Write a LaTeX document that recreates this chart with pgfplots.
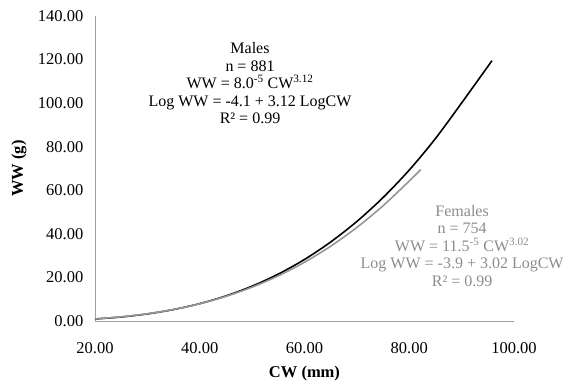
\documentclass[border=0pt]{standalone}
\usepackage{pgfplots}
\pgfplotsset{compat=1.18}
\usepackage{fontspec}
\setmainfont{Liberation Serif}
\definecolor{axisgray}{RGB}{160,160,160}
\definecolor{femgray}{RGB}{150,150,150}
\definecolor{femtext}{RGB}{140,140,140}
\begin{document}
\fontsize{16.5}{17.5}\selectfont
\begin{tikzpicture}
\path[use as bounding box] (-95pt,-62pt) rectangle (471pt,321pt);
\begin{axis}[
  at={(0pt,0pt)}, anchor=origin,
  scale only axis, width=419pt, height=305pt,
  xmin=20, xmax=100, ymin=0, ymax=140,
  axis x line*=bottom, axis y line*=left,
  axis line style={axisgray, line width=0.8pt},
  every outer x axis line/.append style={-},
  every outer y axis line/.append style={-},
  xtick={20,40,60,80,100}, ytick={0,20,40,60,80,100,120,140},
  major tick length=0pt,
  tick label style={font=\fontsize{16.5}{18}\selectfont},
  /pgf/number format/assume math mode=true,
  /pgf/number format/.cd, fixed, fixed zerofill, precision=2, /pgfplots/.cd,
  xticklabel style={yshift=-16pt},
  yticklabel style={xshift=-6pt},
  clip=false,
]
\addplot[black, line width=1.6pt, smooth] coordinates {
(20,0.92) (25,1.84) (30,3.25) (35,5.26) (40,7.97) (45,11.51) (50,15.99)
(55,21.53) (60,28.24) (65,36.26) (70,45.69) (75,56.66) (80,69.29)
(85,83.74) (90,100.08) (95.8,119.5)};
\addplot[femgray, line width=1.6pt, smooth] coordinates {
(20,0.98) (25,1.92) (30,3.32) (35,5.29) (40,7.92) (45,11.31) (50,15.54)
(55,20.73) (60,26.96) (65,34.33) (70,42.95) (75,52.90) (80,64.26) (82.2,69.5)};
\node[align=center, font=\fontsize{16}{17.5}\selectfont] at (axis cs:49.6,109)
 {Males\\ n = 881\\ WW = 8.0\textsuperscript{-5} CW\textsuperscript{3.12}\\ Log WW = -4.1 + 3.12 LogCW\\ R² = 0.99};
\node[align=center, text=femtext, font=\fontsize{16}{17.5}\selectfont] at (axis cs:90.1,34.4)
 {Females\\ n = 754\\ WW = 11.5\textsuperscript{-5} CW\textsuperscript{3.02}\\ Log WW = -3.9 + 3.02 LogCW\\ R² = 0.99};
\node[font=\fontsize{16.5}{18}\selectfont\bfseries, anchor=center] at ([yshift=-53pt]rel axis cs:0.5,0) {CW (mm)};
\node[font=\fontsize{16.5}{18}\selectfont\bfseries, anchor=center, rotate=90] at ([xshift=-76pt]rel axis cs:0,0.5) {WW (g)};
\end{axis}
\end{tikzpicture}
\end{document}
